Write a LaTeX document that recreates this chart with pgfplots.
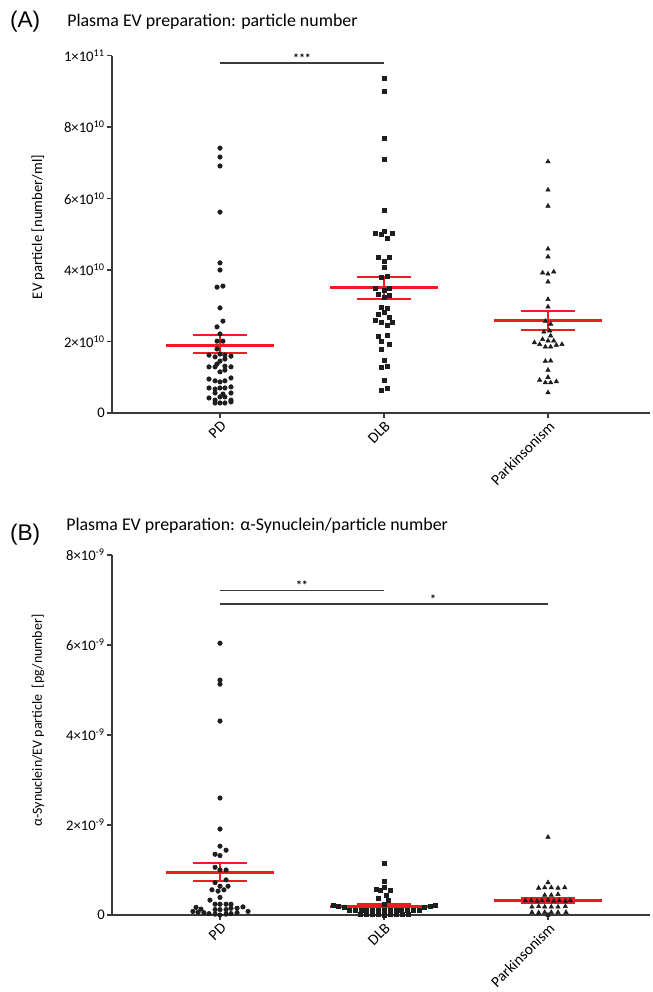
\documentclass[border=0pt]{standalone}
\usepackage{pgfplots}
\pgfplotsset{compat=1.18}
\usepackage{fontspec}
\setmainfont{Carlito}
\newfontfamily\panelfont{Liberation Sans}
\definecolor{evRed}{HTML}{EC1C24}
\definecolor{evAxis}{HTML}{3A3A3A}
\definecolor{evDot}{HTML}{1E1E1E}

\pgfplotsset{
  evpanel/.style={
    scale only axis, width=403.5pt, xmin=0.3415, xmax=3.622,
    axis x line=bottom, axis y line=left,
    axis line style={-, draw=evAxis, line width=0.9pt},
    tick align=outside, major tick length=3.75pt,
    tick style={draw=evAxis, line width=0.9pt},
    xtick={1,2,3}, xticklabels={PD,DLB,Parkinsonism},
    x tick label style={rotate=45, anchor=north east, font=\fontsize{11.5}{13}\selectfont, inner sep=1pt},
    y tick label style={font=\fontsize{11}{13}\selectfont, inner sep=1.5pt},
    every axis y label/.style={at={(rel axis cs:0,0.5)}, xshift=-55.5pt, rotate=90, anchor=center, font=\fontsize{11}{13}\selectfont},
    clip=false, scaled y ticks=false,
  },
  dotsC/.style={only marks, mark=*, mark size=1.7pt, mark options={draw=evDot, fill=evDot}},
  dotsS/.style={only marks, mark=square*, mark size=1.5pt, mark options={draw=evDot, fill=evDot}},
  dotsT/.style={only marks, mark=triangle*, mark size=1.9pt, mark options={draw=evDot, fill=evDot}},
  meanline/.style={evRed, line width=2.25pt},
  semline/.style={evRed, line width=1.5pt},
  sigline/.style={evAxis, line width=0.9pt},
}
\tikzset{stars/.style={anchor=south, inner sep=0.5pt, font=\bfseries\fontsize{9}{10}\selectfont}}

\begin{document}
\begin{tikzpicture}
\path[use as bounding box] (0,0) rectangle (489.75pt,744pt);

\node[anchor=west, font=\panelfont\fontsize{17}{20}\selectfont] at (4pt,727.5pt) {(A)};
\node[anchor=west, inner sep=0pt, font=\fontsize{13.4}{16}\selectfont] at (50.25pt,727.5pt) {Plasma EV preparation: particle number};
\node[anchor=west, font=\panelfont\fontsize{17}{20}\selectfont] at (4pt,342.75pt) {(B)};
\node[anchor=west, inner sep=0pt, font=\fontsize{13.4}{16}\selectfont] at (49.5pt,349.5pt) {Plasma EV preparation: α-Synuclein/particle number};

% ---- panel A: particle number (values in 1e10 per ml)
\begin{axis}[evpanel, at={(84pt,434.25pt)}, anchor=south west, height=268.1pt,
  ymin=0, ymax=10, ytick={0,2,4,6,8,10},
  yticklabels={0,2×10\textsuperscript{10},4×10\textsuperscript{10},6×10\textsuperscript{10},8×10\textsuperscript{10},1×10\textsuperscript{11}},
  ylabel={EV particle [number/ml]},
  ylabel style={at={(rel axis cs:0,0.52)}}]

\addplot[sigline] coordinates {(1,9.79) (2,9.79)};
\node[stars] at (axis cs:1.5,9.79) {***};

% mean and SEM
\addplot[meanline] coordinates {(0.67,1.90) (1.33,1.90)};
\addplot[semline] coordinates {(0.834,2.18) (1.166,2.18)};
\addplot[semline] coordinates {(0.834,1.68) (1.166,1.68)};
\addplot[semline] coordinates {(1,1.68) (1,2.18)};
\addplot[meanline] coordinates {(1.67,3.50) (2.33,3.50)};
\addplot[semline] coordinates {(1.834,3.81) (2.166,3.81)};
\addplot[semline] coordinates {(1.834,3.20) (2.166,3.20)};
\addplot[semline] coordinates {(2,3.20) (2,3.81)};
\addplot[meanline] coordinates {(2.67,2.58) (3.33,2.58)};
\addplot[semline] coordinates {(2.834,2.86) (3.166,2.86)};
\addplot[semline] coordinates {(2.834,2.31) (3.166,2.31)};
\addplot[semline] coordinates {(3,2.31) (3,2.86)};

\addplot[dotsC] table {
x y
1 7.41
1 7.16
1 6.91
1 5.62
1 4.20
1 4.00
0.982 3.52
1.018 3.55
1 2.94
1.018 2.57
0.982 2.41
1 2.21
0.982 2.01
1.018 2.01
0.982 1.79
0.933 1.62
0.970 1.57
1 1.65
1.030 1.62
1.067 1.59
1 1.45
1.030 1.51
0.982 1.37
0.933 1.29
0.970 1.29
1.030 1.31
1.067 1.29
1 1.15
1.030 1.20
0.933 0.95
0.970 0.90
1 0.87
1.030 0.90
1.067 0.98
0.933 0.70
0.970 0.67
1 0.70
1.030 0.70
1.067 0.73
0.970 0.56
1.018 0.53
1.067 0.56
0.933 0.42
0.970 0.36
1 0.45
1.030 0.45
1.067 0.36
0.970 0.28
1 0.28
1.030 0.28
1.067 0.31
};

\addplot[dotsS] table {
x y
2 9.36
2 8.99
2 7.68
2 7.10
2 5.66
1.945 5.04
1.982 5.01
2 5.07
2.018 4.89
2.049 5.03
1.963 4.37
2.030 4.37
2 4.25
2 4.07
1.982 3.80
2.018 3.83
1.945 3.49
2 3.44
2.030 3.49
1.963 3.32
2 3.25
2.030 3.28
1.982 2.97
2.018 2.92
1.963 2.77
2 2.81
2.030 2.67
1.945 2.58
1.982 2.53
2.018 2.46
2.049 2.53
1.963 2.15
2.018 2.18
1.982 2.00
2.030 1.91
1.982 1.77
2 1.48
1.982 1.28
2.018 1.31
2 0.92
1.982 0.64
2.018 0.69
};

\addplot[dotsT] table {
x y
3 7.03
3 6.24
3 5.79
3 4.59
3 4.37
2.967 3.92
3 3.89
3.035 3.95
3 3.67
3 3.18
3 2.97
2.984 2.57
3.016 2.49
2.975 2.27
3.010 2.30
3.016 2.16
2.967 2.06
3 2.02
3.035 2.02
2.917 1.97
2.949 1.92
2.984 1.85
3.016 1.85
3.051 1.90
3.085 1.92
2.984 1.45
3.016 1.46
3 1.20
3 1.00
2.949 0.92
2.984 0.85
3.016 0.85
3.051 0.88
3 0.57
};
\end{axis}

% ---- panel B: alpha-synuclein per particle (values in 1e-9 pg)
\begin{axis}[evpanel, at={(84pt,57.75pt)}, anchor=south west, height=270pt,
  ymin=0, ymax=8, ytick={0,2,4,6,8},
  yticklabels={0,2×10\textsuperscript{-9},4×10\textsuperscript{-9},6×10\textsuperscript{-9},8×10\textsuperscript{-9}},
  ylabel={α-Synuclein/EV particle\ \ [pg/number]},
  ylabel style={at={(rel axis cs:0,0.54)}, font=\fontsize{10.5}{12}\selectfont}]

\addplot[sigline] coordinates {(1,7.22) (2,7.22)};
\node[stars] at (axis cs:1.5,7.22) {**};
\addplot[sigline] coordinates {(1,6.91) (3,6.91)};
\node[stars] at (axis cs:2.3,6.91) {*};

\addplot[meanline] coordinates {(0.67,0.95) (1.33,0.95)};
\addplot[semline] coordinates {(0.834,1.15) (1.166,1.15)};
\addplot[semline] coordinates {(0.834,0.75) (1.166,0.75)};
\addplot[semline] coordinates {(1,0.75) (1,1.15)};
\addplot[meanline] coordinates {(1.67,0.20) (2.33,0.20)};
\addplot[semline] coordinates {(1.834,0.235) (2.166,0.235)};
\addplot[semline] coordinates {(1.834,0.17) (2.166,0.17)};
\addplot[meanline] coordinates {(2.67,0.32) (3.33,0.32)};
\addplot[semline] coordinates {(2.834,0.37) (3.166,0.37)};
\addplot[semline] coordinates {(2.834,0.26) (3.166,0.26)};
\addplot[semline] coordinates {(3,0.26) (3,0.37)};

\addplot[dotsC] table {
x y
1 6.04
1 5.22
1 5.13
1 4.31
1 2.60
1 1.91
1 1.53
1.037 1.44
0.970 1.35
1 1.32
0.970 1.06
1 1.00
1.037 1.00
1.037 0.78
0.970 0.72
1 0.64
1.049 0.64
0.951 0.56
0.988 0.53
1.024 0.56
1 0.39
0.939 0.33
0.970 0.24
1 0.24
1.037 0.24
1.067 0.24
0.854 0.17
0.884 0.13
0.970 0.12
1 0.12
1.037 0.12
1.067 0.15
1.104 0.15
1.140 0.18
0.835 0.08
0.866 0.06
0.902 0.05
0.933 0.03
0.970 0.02
1 0.00
1.037 0.02
1.067 0.03
1.104 0.05
1.171 0.08
};

\addplot[dotsS] table {
x y
2 1.16
2 0.76
1.951 0.57
1.976 0.54
2 0.61
2.037 0.56
1.963 0.37
2.012 0.44
2.024 0.33
2 0.24
1.689 0.21
1.720 0.20
1.756 0.18
2.244 0.18
2.280 0.20
2.311 0.21
1.787 0.11
1.823 0.11
1.860 0.11
1.893 0.11
1.927 0.11
1.963 0.11
2 0.11
2.037 0.11
2.073 0.11
2.107 0.11
2.140 0.11
2.177 0.11
2.213 0.11
1.854 0.01
1.890 0.01
1.927 0.01
1.963 0.01
2 0.00
2.037 0.01
2.073 0.01
2.110 0.01
2.146 0.01
};

\addplot[dotsT] table {
x y
3 1.73
3 0.72
2.943 0.60
2.980 0.61
3.020 0.61
3.061 0.60
3.102 0.61
2.980 0.44
3.020 0.44
3.061 0.46
2.862 0.32
2.898 0.32
2.933 0.31
2.963 0.32
3 0.33
3.035 0.31
3.069 0.32
3.106 0.31
3.136 0.32
2.902 0.18
2.943 0.19
2.980 0.18
3.020 0.18
3.061 0.18
3.106 0.19
2.902 0.06
2.943 0.05
2.980 0.06
3.020 0.06
3.061 0.06
3.110 0.06
3 0.00
};
\end{axis}
\end{tikzpicture}
\end{document}
